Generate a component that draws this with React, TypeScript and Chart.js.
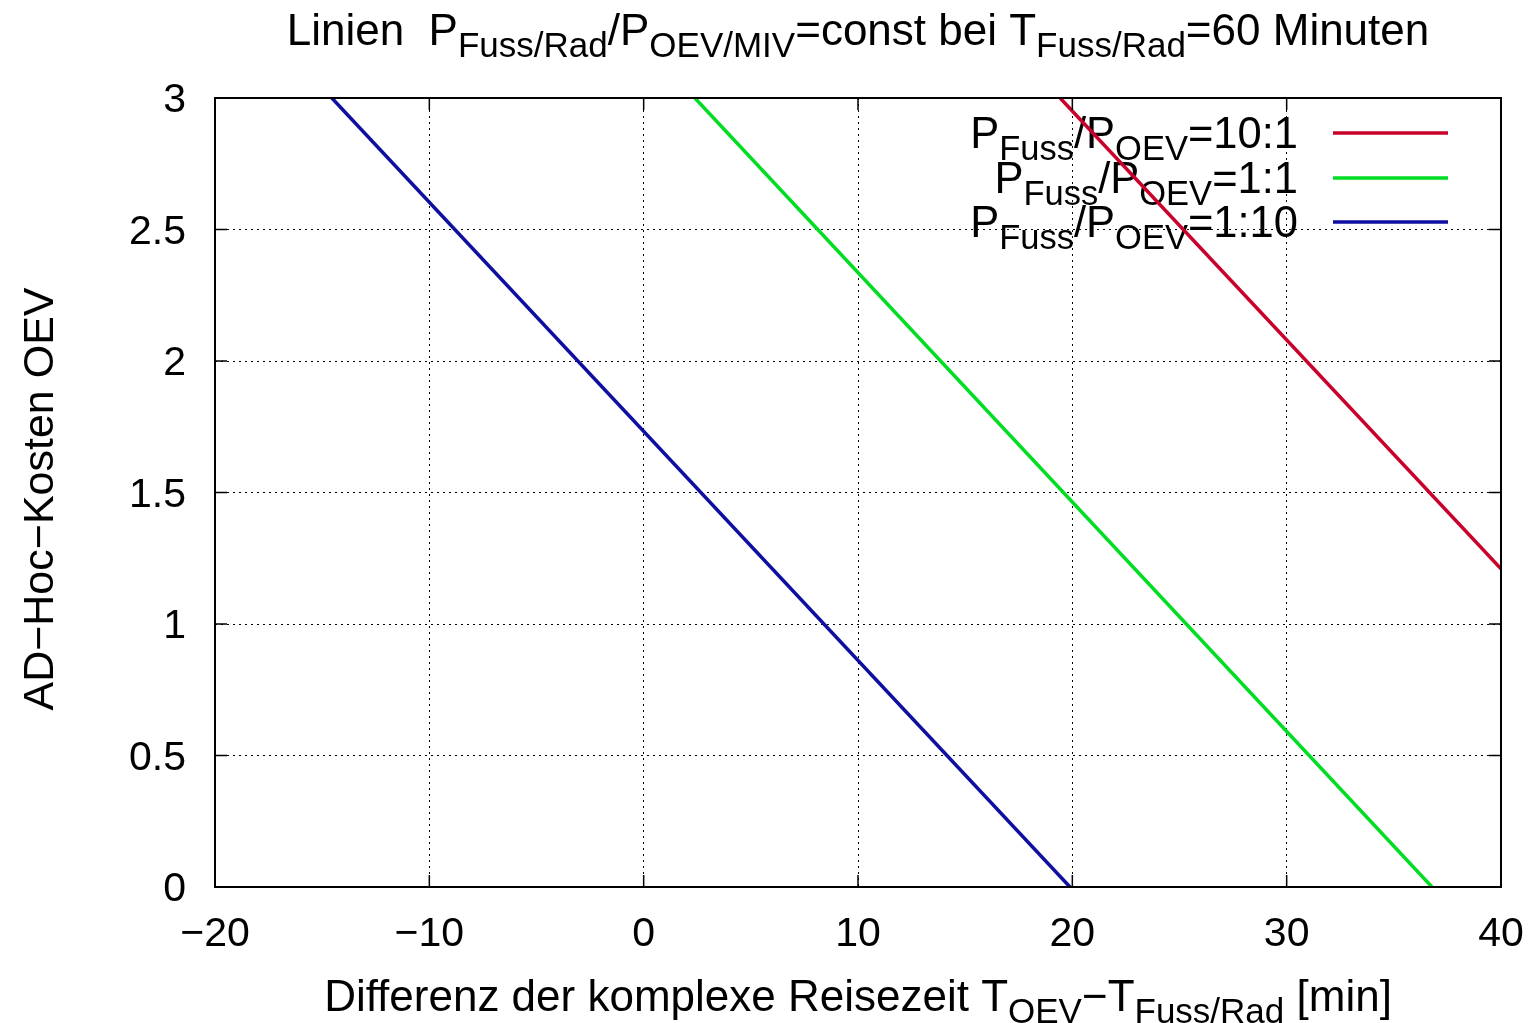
import React, { useEffect, useRef } from 'react';
import { Chart, registerables } from 'chart.js';

Chart.register(...registerables);

// ---- data ----
const xTickValues = [-20, -10, 0, 10, 20, 30, 40];
const xTickLabels = ['−20', '−10', '0', '10', '20', '30', '40'];
const yTickValues = [0, 0.5, 1, 1.5, 2, 2.5, 3];
const yTickLabels = ['0', '0.5', '1', '1.5', '2', '2.5', '3'];

const seriesRatios = ['10:1', '1:1', '1:10'];
const seriesColors = ['#c8002a', '#00dd22', '#0e0ea0'];

const redX = [19.43, 40];
const redY = [3, 1.21];
const greenX = [2.39, 36.78];
const greenY = [3, 0];
const blueX = [-14.55, 19.89];
const blueY = [3, 0];

const FONT = '"Liberation Sans", Arial, Helvetica, sans-serif';
const MAIN = 44;
const SUB = 35;
const SHIFT = 12;
const TICK = 41;

type Seg = { t: string; sub?: boolean };

function drawRich(
  ctx: CanvasRenderingContext2D,
  segs: Seg[],
  x: number,
  y: number,
  align: 'left' | 'center' | 'right',
  main = MAIN,
  sub = SUB
) {
  ctx.save();
  ctx.textBaseline = 'alphabetic';
  ctx.textAlign = 'left';
  ctx.fillStyle = '#000';
  const widths = segs.map((s) => {
    ctx.font = `${s.sub ? sub : main}px ${FONT}`;
    return ctx.measureText(s.t).width;
  });
  const total = widths.reduce((a, b) => a + b, 0);
  let cx = align === 'left' ? x : align === 'center' ? x - total / 2 : x - total;
  segs.forEach((s, i) => {
    ctx.font = `${s.sub ? sub : main}px ${FONT}`;
    ctx.fillText(s.t, cx, y + (s.sub ? SHIFT : 0));
    cx += widths[i];
  });
  ctx.restore();
}

const titleSegs: Seg[] = [
  { t: 'Linien  P' },
  { t: 'Fuss/Rad', sub: true },
  { t: '/P' },
  { t: 'OEV/MIV', sub: true },
  { t: '=const bei T' },
  { t: 'Fuss/Rad', sub: true },
  { t: '=60 Minuten' },
];

const xLabelSegs: Seg[] = [
  { t: 'Differenz der komplexe Reisezeit T' },
  { t: 'OEV', sub: true },
  { t: '−T' },
  { t: 'Fuss/Rad', sub: true },
  { t: ' [min]' },
];

const yLabel = 'AD−Hoc−Kosten OEV';

function toPoints(xs: number[], ys: number[]) {
  return xs.map((x, i) => ({ x, y: ys[i] }));
}

const legendPlugin = {
  id: 'gpLegend',
  beforeDatasetsDraw(chart: any) {
    const ctx: CanvasRenderingContext2D = chart.ctx;
    const ys = [133, 178, 222];
    seriesRatios.forEach((r, i) => {
      const y = ys[i];
      drawRich(
        ctx,
        [{ t: 'P' }, { t: 'Fuss', sub: true }, { t: '/P' }, { t: 'OEV', sub: true }, { t: '=' + r }],
        1298,
        y + 15,
        'right',
        43.5,
        34.5
      );
      ctx.save();
      ctx.strokeStyle = seriesColors[i];
      ctx.lineWidth = 3.5;
      ctx.beginPath();
      ctx.moveTo(1333, y);
      ctx.lineTo(1448, y);
      ctx.stroke();
      ctx.restore();
    });
  },
};

const framePlugin = {
  id: 'gpFrame',
  afterDraw(chart: any) {
    const ctx: CanvasRenderingContext2D = chart.ctx;
    const { left, right, top, bottom } = chart.chartArea;
    const xs = chart.scales.x;
    const ysc = chart.scales.y;
    ctx.save();
    ctx.strokeStyle = '#000';
    ctx.lineWidth = 2;
    ctx.strokeRect(left, top, right - left, bottom - top);
    ctx.lineWidth = 1.5;
    const tl = 12;
    ctx.beginPath();
    xTickValues.forEach((v) => {
      const px = xs.getPixelForValue(v);
      ctx.moveTo(px, bottom);
      ctx.lineTo(px, bottom - tl);
      ctx.moveTo(px, top);
      ctx.lineTo(px, top + tl);
    });
    yTickValues.forEach((v) => {
      const py = ysc.getPixelForValue(v);
      ctx.moveTo(left, py);
      ctx.lineTo(left + tl, py);
      ctx.moveTo(right, py);
      ctx.lineTo(right - tl, py);
    });
    ctx.stroke();
    ctx.restore();

    const cx = (left + right) / 2;
    drawRich(ctx, titleSegs, cx, 45, 'center');
    drawRich(ctx, xLabelSegs, cx, 1011, 'center', 44, 35);

    ctx.save();
    ctx.translate(53, 499);
    ctx.rotate(-Math.PI / 2);
    ctx.font = `43px ${FONT}`;
    ctx.fillStyle = '#000';
    ctx.textAlign = 'center';
    ctx.textBaseline = 'alphabetic';
    ctx.fillText(yLabel, 0, 0);
    ctx.restore();
  },
};

export default function App() {
  const ref = useRef<HTMLCanvasElement>(null);

  useEffect(() => {
    if (!ref.current) return;
    const chart = new Chart(ref.current, {
      type: 'scatter',
      data: {
        datasets: [
          { label: 'P_Fuss/P_OEV=' + seriesRatios[0], data: toPoints(redX, redY), borderColor: seriesColors[0] },
          { label: 'P_Fuss/P_OEV=' + seriesRatios[1], data: toPoints(greenX, greenY), borderColor: seriesColors[1] },
          { label: 'P_Fuss/P_OEV=' + seriesRatios[2], data: toPoints(blueX, blueY), borderColor: seriesColors[2] },
        ].map((d) => ({
          ...d,
          showLine: true,
          borderWidth: 3.5,
          pointRadius: 0,
          fill: false,
          tension: 0,
          backgroundColor: d.borderColor,
        })),
      },
      options: {
        responsive: false,
        animation: false,
        devicePixelRatio: 1,
        layout: { padding: { left: 0, top: 98, right: 36, bottom: 0 } },
        plugins: {
          legend: { display: false },
          title: { display: false },
          tooltip: { enabled: false },
        },
        scales: {
          x: {
            type: 'linear',
            min: -20,
            max: 40,
            afterBuildTicks: (axis: any) => {
              axis.ticks = xTickValues.map((v) => ({ value: v }));
            },
            afterFit: (axis: any) => {
              axis.height = 1023 - 887;
              axis.paddingLeft = 0;
              axis.paddingRight = 0;
            },
            ticks: {
              color: '#000',
              font: { family: FONT, size: TICK },
              padding: 23,
              maxRotation: 0,
              autoSkip: false,
              callback: (v: any) => xTickLabels[xTickValues.indexOf(Number(v))] ?? '',
            },
            grid: { color: '#000', lineWidth: 1, drawTicks: false },
            border: { display: false, dash: [2, 4] },
          },
          y: {
            type: 'linear',
            min: 0,
            max: 3,
            afterBuildTicks: (axis: any) => {
              axis.ticks = yTickValues.map((v) => ({ value: v }));
            },
            afterFit: (axis: any) => {
              axis.width = 215;
              axis.paddingTop = 0;
              axis.paddingBottom = 0;
            },
            ticks: {
              color: '#000',
              font: { family: FONT, size: TICK },
              padding: 29,
              labelOffset: 3,
              autoSkip: false,
              callback: (v: any) => yTickLabels[yTickValues.indexOf(Number(v))] ?? '',
            },
            grid: { color: '#000', lineWidth: 1, drawTicks: false },
            border: { display: false, dash: [2, 4] },
          },
        },
      },
      plugins: [legendPlugin, framePlugin],
    } as any);
    return () => chart.destroy();
  }, []);

  return (
    <div style={{ position: 'absolute', left: 0, top: 0, width: 1537, height: 1023, background: '#fff' }}>
      <canvas ref={ref} width={1537} height={1023} style={{ display: 'block' }} />
    </div>
  );
}
